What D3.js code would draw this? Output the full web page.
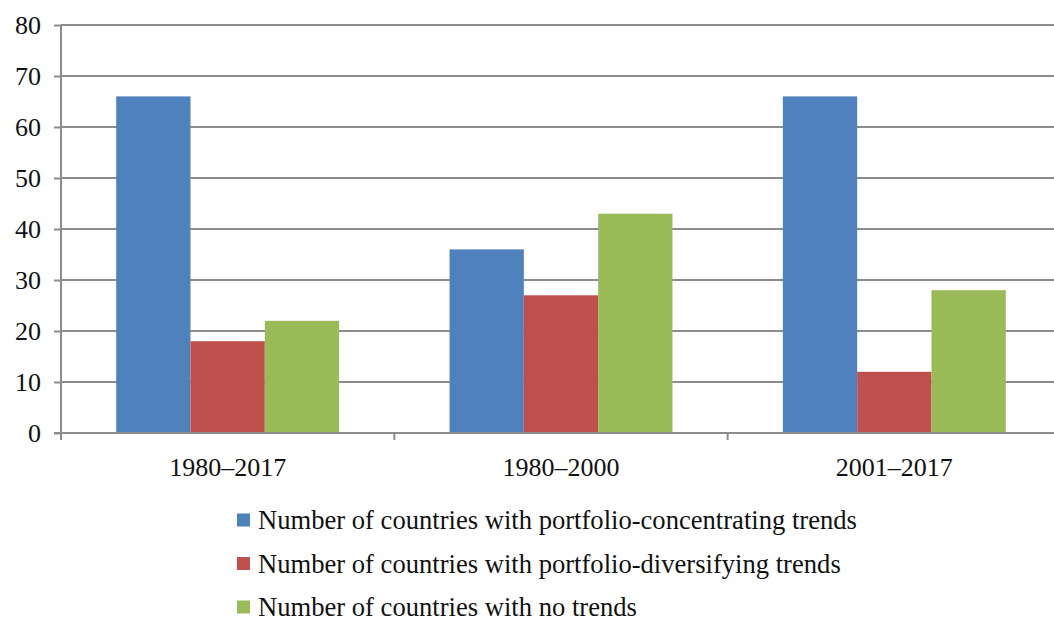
<!DOCTYPE html>
<html>
<head>
<meta charset="utf-8">
<title></title>
<style>
  body { margin: 0; background: #fff; }
  .grid line { stroke: #8c8c8c; stroke-width: 2; }
  .axis path, .axis line { stroke: #8c8c8c; stroke-width: 2; }
</style>
</head>
<body>
<svg width="1054" height="622"></svg>
<script src="https://cdn.jsdelivr.net/npm/d3@7"></script>
<script>

var periods = ["1980–2017", "1980–2000", "2001–2017"];
var seriesNames = [
  "Number of countries with portfolio-concentrating trends",
  "Number of countries with portfolio-diversifying trends",
  "Number of countries with no trends"
];
var concentrating = [66, 36, 66];
var diversifying = [18, 27, 12];
var noTrends = [22, 43, 28];
var yTicks = [0, 10, 20, 30, 40, 50, 60, 70, 80];
var colors = ["#4f81bd", "#c0504d", "#9bbb59"];

var series = [concentrating, diversifying, noTrends];
var serif = "'Liberation Serif', 'Times New Roman', Times, serif";

var svg = d3.select("svg");
var plotLeft = 61, plotRight = 1061, plotTop = 25, plotBottom = 433;

var x = d3.scaleBand().domain(periods).range([plotLeft, plotRight]);
var inner = d3.scaleBand().domain(d3.range(series.length))
  .range([0, x.bandwidth()]).paddingOuter(0.743).paddingInner(0);
var y = d3.scaleLinear().domain([0, 80]).range([plotBottom, plotTop]);

// gridlines
svg.append("g").attr("class", "grid")
  .selectAll("line").data(yTicks.filter(function(d) { return d > 0; }))
  .enter().append("line")
  .attr("x1", plotLeft).attr("x2", plotRight)
  .attr("y1", function(d) { return y(d); })
  .attr("y2", function(d) { return y(d); });

// bars
var groups = svg.append("g").selectAll("g").data(periods)
  .enter().append("g")
  .attr("transform", function(d) { return "translate(" + x(d) + ",0)"; });

groups.selectAll("rect")
  .data(function(d, i) { return series.map(function(s, k) { return {k: k, v: s[i]}; }); })
  .enter().append("rect")
  .attr("x", function(d) { return inner(d.k); })
  .attr("width", inner.bandwidth())
  .attr("y", function(d) { return y(d.v); })
  .attr("height", function(d) { return plotBottom - y(d.v); })
  .attr("fill", function(d) { return colors[d.k]; });

// y axis
var yAxis = svg.append("g").attr("class", "axis")
  .attr("transform", "translate(" + plotLeft + ",0)")
  .call(d3.axisLeft(y).tickValues(yTicks).tickSize(7).tickPadding(13));
yAxis.attr("font-family", serif).attr("font-size", 26);
yAxis.select(".domain").attr("d", "M0," + plotTop + "V" + plotBottom);
yAxis.selectAll("text").attr("fill", "#111");

// x axis
var xAxis = svg.append("g").attr("class", "axis")
  .attr("transform", "translate(0," + plotBottom + ")");
xAxis.append("line").attr("x1", plotLeft - 7).attr("x2", plotRight).attr("y1", 0).attr("y2", 0);
xAxis.selectAll(".tk").data(periods.concat(["end"]))
  .enter().append("line")
  .attr("x1", function(d, i) { return plotLeft + i * x.bandwidth(); })
  .attr("x2", function(d, i) { return plotLeft + i * x.bandwidth(); })
  .attr("y1", 0).attr("y2", 7);
xAxis.selectAll("text").data(periods)
  .enter().append("text")
  .attr("x", function(d) { return x(d) + x.bandwidth() / 2; })
  .attr("y", 43)
  .attr("text-anchor", "middle")
  .attr("font-family", serif)
  .attr("font-size", 26)
  .attr("fill", "#111")
  .text(function(d) { return d; });

// legend
var legend = svg.append("g").selectAll("g").data(seriesNames)
  .enter().append("g")
  .attr("transform", function(d, i) { return "translate(237," + (520 + i * 43.5) + ")"; });
legend.append("rect")
  .attr("x", 0).attr("y", -6.5).attr("width", 13).attr("height", 13)
  .attr("fill", function(d, i) { return colors[i]; });
legend.append("text")
  .attr("x", 21).attr("y", 9)
  .attr("font-family", serif)
  .attr("font-size", 26.6)
  .attr("fill", "#111")
  .text(function(d) { return d; });

</script>
</body>
</html>
